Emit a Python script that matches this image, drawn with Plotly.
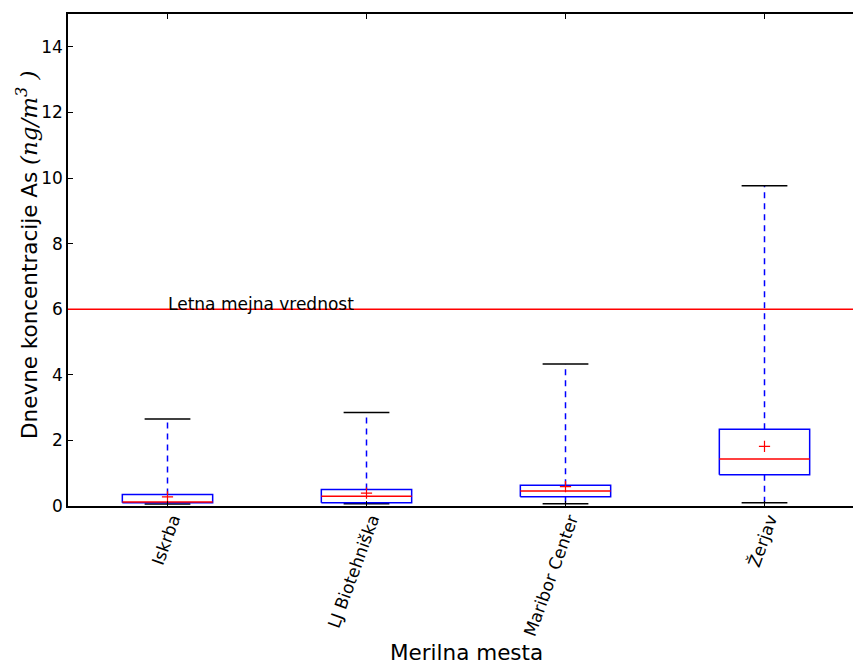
import plotly.graph_objects as go

categories = ["Iskrba", "LJ Biotehniška", "Maribor Center", "Žerjav"]
lower_whisker = [0.06, 0.07, 0.07, 0.10]
q1 = [0.10, 0.10, 0.28, 0.95]
median = [0.12, 0.30, 0.46, 1.43]
q3 = [0.35, 0.50, 0.63, 2.34]
upper_whisker = [2.65, 2.85, 4.33, 9.76]
means = [0.28, 0.39, 0.59, 1.82]
limit_value = 6
limit_label = "Letna mejna vrednost"
y_ticks = [0, 2, 4, 6, 8, 10, 12, 14]

positions = list(range(1, len(categories) + 1))
half_box = 0.227
half_cap = 0.115
BLUE = "#0000ff"
RED = "#ff0000"
FONT = "DejaVu Sans"

fig = go.Figure()

for i, p in enumerate(positions):
    # whiskers (dashed blue)
    fig.add_trace(go.Scatter(x=[p, p], y=[q3[i], upper_whisker[i]], mode="lines",
                             line=dict(color=BLUE, width=1.5, dash="6px,5px"), hoverinfo="skip"))
    fig.add_trace(go.Scatter(x=[p, p], y=[q1[i], lower_whisker[i]], mode="lines",
                             line=dict(color=BLUE, width=1.5, dash="6px,5px"), hoverinfo="skip"))
    # caps (black)
    for w in (upper_whisker[i], lower_whisker[i]):
        fig.add_trace(go.Scatter(x=[p - half_cap, p + half_cap], y=[w, w], mode="lines",
                                 line=dict(color="black", width=1.5), hoverinfo="skip"))
    # box
    fig.add_trace(go.Scatter(x=[p - half_box, p + half_box, p + half_box, p - half_box, p - half_box],
                             y=[q1[i], q1[i], q3[i], q3[i], q1[i]], mode="lines",
                             line=dict(color=BLUE, width=1.5), hoverinfo="skip"))
    # median
    fig.add_trace(go.Scatter(x=[p - half_box, p + half_box], y=[median[i], median[i]], mode="lines",
                             line=dict(color=RED, width=1.5), hoverinfo="skip"))

# means
fig.add_trace(go.Scatter(x=positions, y=means, mode="markers",
                         marker=dict(symbol="cross-thin", size=8, line=dict(color=RED, width=1.2)),
                         hoverinfo="skip"))

# limit line
fig.add_shape(type="line", xref="paper", x0=0, x1=1, yref="y", y0=limit_value, y1=limit_value,
              line=dict(color=RED, width=1.5))
fig.add_annotation(x=positions[0], y=limit_value, xref="x", yref="y", text=limit_label,
                   showarrow=False, xanchor="left", yanchor="bottom", yshift=-7, xshift=-2,
                   font=dict(family=FONT, size=17, color="black"))

# axis titles
fig.add_annotation(x=(positions[0] + positions[-1]) / 2, xref="x", y=0, yref="paper",
                   text="Merilna mesta", showarrow=False, xanchor="center", yanchor="top",
                   yshift=-132, font=dict(family=FONT, size=21.5, color="black"))
fig.add_annotation(x=0, xref="paper", y=0.5, yref="paper", textangle=-90,
                   text="Dnevne koncentracije As <span style=\"font-family:DejaVu Serif;font-size:23px\"><i>(ng/m<sup>3</sup> )</i></span>",
                   showarrow=False, xanchor="center", yanchor="middle", xshift=-41, yshift=5,
                   font=dict(family=FONT, size=21.5, color="black"))

fig.update_layout(
    width=853, height=665,
    margin=dict(l=68, r=0, t=14, b=159),
    plot_bgcolor="white", paper_bgcolor="white",
    showlegend=False,
    font=dict(family=FONT, size=17, color="black"),
    xaxis=dict(range=[0.5, 0.5 + 785 / 199], tickvals=positions, ticktext=categories,
               tickangle=-70, ticks="inside", ticklen=5, tickcolor="black",
               ticklabelshift=5, ticklabelstandoff=-5,
               showline=True, linecolor="black", linewidth=1.5, mirror="ticks",
               showgrid=False, zeroline=False),
    yaxis=dict(range=[0, 15], tickvals=y_ticks, ticks="inside", ticklen=5, tickcolor="black",
               showline=True, linecolor="black", linewidth=1.5, mirror=False,
               showgrid=False, zeroline=False),
)

fig.write_html("out.html")
